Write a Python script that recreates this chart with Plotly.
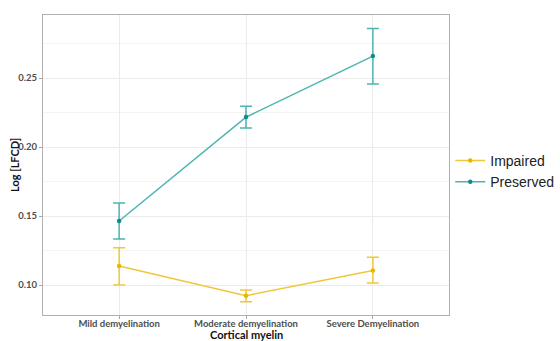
import plotly.graph_objects as go

categories = ["Mild demyelination", "Moderate demyelination", "Severe Demyelination"]
impaired = [0.1138, 0.0923, 0.1106]
impaired_hi = [0.1270, 0.0964, 0.1201]
impaired_lo = [0.1000, 0.0879, 0.1015]
preserved = [0.1464, 0.2217, 0.2659]
preserved_hi = [0.1594, 0.2295, 0.2860]
preserved_lo = [0.1333, 0.2138, 0.2457]
y_ticks = [0.10, 0.15, 0.20, 0.25]

fig = go.Figure()

def add_series(name, vals, hi, lo, line_col, mark_col):
    fig.add_trace(go.Scatter(
        x=categories, y=vals, name=name, mode="lines+markers",
        line=dict(color=line_col, width=1.5),
        marker=dict(color=mark_col, size=4.5),
        error_y=dict(type="data", symmetric=False,
                     array=[h - v for h, v in zip(hi, vals)],
                     arrayminus=[v - l for v, l in zip(vals, lo)],
                     color=line_col, thickness=1.5, width=6),
    ))

add_series("Impaired", impaired, impaired_hi, impaired_lo, "#efc83a", "#e6b800")
add_series("Preserved", preserved, preserved_hi, preserved_lo, "#4bb5b0", "#108c88")

fig.update_layout(
    width=560, height=341,
    margin=dict(l=43, r=111, t=15, b=26),
    paper_bgcolor="white", plot_bgcolor="white",
    font=dict(family="Lato", color="#4d4d4d"),
    legend=dict(xref="container", yref="container", x=0.804, y=0.497,
                yanchor="middle", xanchor="left",
                font=dict(family="Liberation Sans", size=14, color="#222222"),
                bgcolor="rgba(0,0,0,0)", tracegroupgap=0, itemwidth=30),
    showlegend=True,
    annotations=[
        dict(text="<b>Cortical myelin</b>", xref="paper", yref="paper", x=0.5, y=(315 - 334) / 300,
             yanchor="middle", xanchor="center", showarrow=False,
             font=dict(family="Lato", size=11, color="#111111")),
        dict(text="<b>Log [LFCD]</b>", xref="paper", yref="paper", x=(14 - 43) / 406, y=0.5,
             textangle=-90, yanchor="middle", xanchor="center", showarrow=False,
             font=dict(family="Lato", size=11, color="#111111")),
    ],
)
fig.update_xaxes(
    type="category", range=[-0.6, 2.6], automargin=False,
    showgrid=True, gridcolor="#ebebeb", gridwidth=1,
    showline=True, linecolor="#b0b0b0", linewidth=1.2, mirror=True,
    ticks="outside", ticklen=3, tickcolor="#a8a8a8", ticklabelstandoff=-4,
    tickfont=dict(family="Lato", size=9.5, color="#4d4d4d", weight="bold"),
    zeroline=False,
)
fig.update_yaxes(
    range=[0.0783, 0.2957], tickvals=y_ticks, ticktext=[f"{v:.2f}" for v in y_ticks],
    automargin=False,
    showgrid=True, gridcolor="#ebebeb", gridwidth=1,
    minor=dict(tickvals=[0.075, 0.125, 0.175, 0.225, 0.275], showgrid=True, gridcolor="#f4f4f4", gridwidth=1, ticks=""),
    showline=True, linecolor="#b0b0b0", linewidth=1.2, mirror=True,
    ticks="outside", ticklen=3, tickcolor="#a8a8a8",
    tickfont=dict(family="Lato", size=9.5, color="#4d4d4d", weight="bold"),
    zeroline=False,
)

fig.write_html("out.html")
